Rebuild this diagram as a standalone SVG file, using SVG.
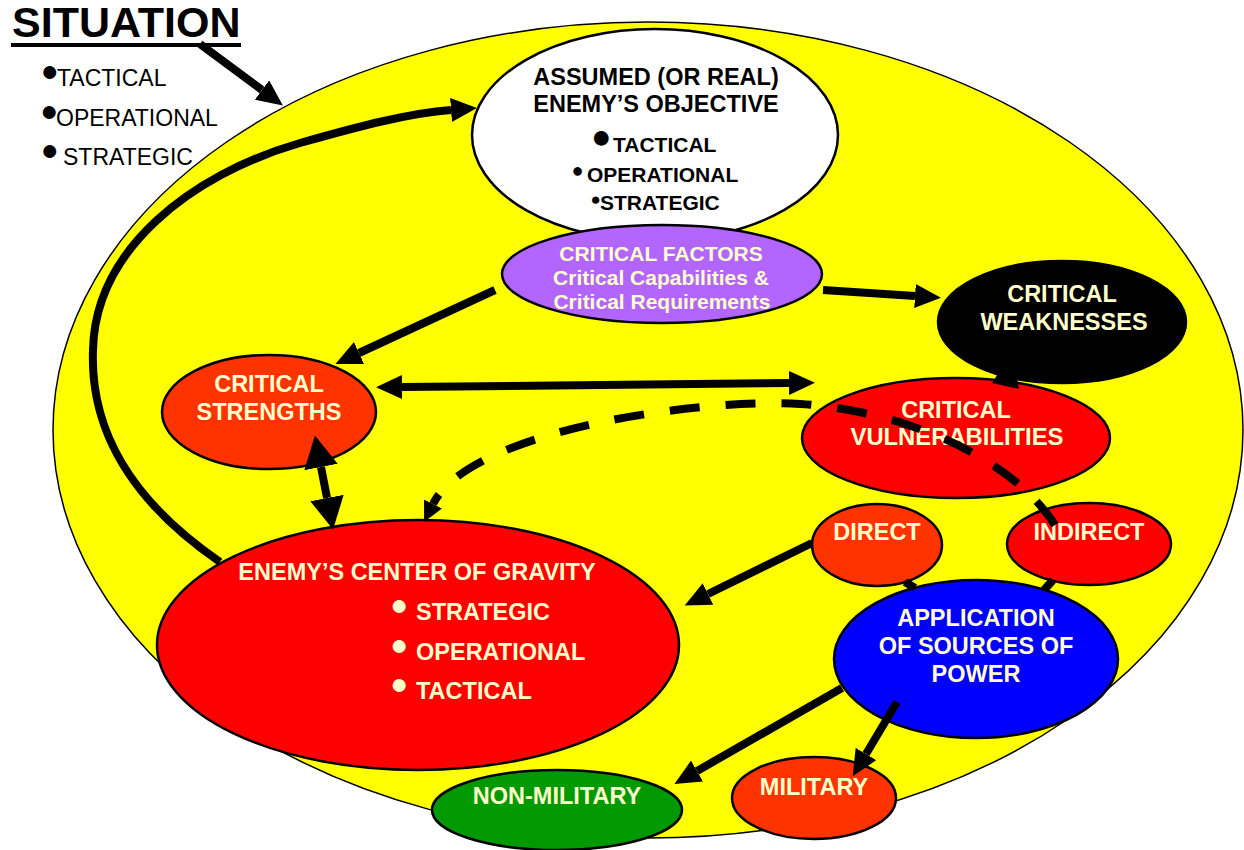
<svg xmlns="http://www.w3.org/2000/svg" width="1244" height="850" viewBox="0 0 1244 850">
<defs>
<style>
text{font-family:"Liberation Sans",Arial,sans-serif;}
.b{font-weight:bold;font-size:23.5px;}
.lt{fill:#FFFFCC;}
.m{text-anchor:middle;}
.node{stroke:#000;stroke-width:2.5;}
.ln{fill:none;stroke:#000;stroke-width:8;}
</style>
<marker id="ah" markerUnits="userSpaceOnUse" markerWidth="26" markerHeight="24" refX="0" refY="12" orient="auto-start-reverse" viewBox="0 0 26 24"><path d="M0,0 L26,12 L0,24 z" fill="#000"/></marker>
<marker id="ahB" markerUnits="userSpaceOnUse" markerWidth="32" markerHeight="34" refX="0" refY="17" orient="auto-start-reverse" viewBox="0 0 32 34"><path d="M0,0 L32,17 L0,34 z" fill="#000"/></marker>
<marker id="ahS" markerUnits="userSpaceOnUse" markerWidth="20" markerHeight="20" refX="0" refY="10" orient="auto" viewBox="0 0 20 20"><path d="M0,0 L20,10 L0,20 z" fill="#000"/></marker>
</defs>
<rect width="1244" height="850" fill="#fff"/>

<g id="title">
<text x="12" y="37" font-size="43" font-weight="bold">SITUATION</text>
<rect x="11" y="43" width="230" height="4" fill="#000"/>
<text x="40.5" y="86" font-size="23"><tspan font-size="30" dy="-5">●</tspan><tspan x="57" dy="5">TACTICAL</tspan></text>
<text x="40" y="126" font-size="23"><tspan font-size="30" dy="-5">●</tspan><tspan x="56" dy="5">OPERATIONAL</tspan></text>
<text x="40.5" y="165" font-size="23"><tspan font-size="30" dy="-5">●</tspan><tspan x="63" dy="5">STRATEGIC</tspan></text>
</g>

<g id="situation-area">
<ellipse cx="648" cy="430" rx="595" ry="408" fill="#FFFF00" stroke="#000" stroke-width="1.5"/>
</g>

<g id="objective">
<ellipse class="node" cx="655" cy="135" rx="183" ry="106" fill="#fff"/>
<text class="b m" x="656" y="85">ASSUMED (OR REAL)</text>
<text class="b m" x="656" y="112">ENEMY’S OBJECTIVE</text>
<text x="591" y="152" font-size="21" font-weight="bold"><tspan font-size="34" dy="-4">●</tspan><tspan x="613" dy="4">TACTICAL</tspan></text>
<text x="571.5" y="182" font-size="21" font-weight="bold"><tspan font-size="20" dy="-5">●</tspan><tspan x="587" dy="5">OPERATIONAL</tspan></text>
<text x="590.5" y="210" font-size="21" font-weight="bold"><tspan font-size="17" dy="-5">●</tspan><tspan x="600" dy="5">STRATEGIC</tspan></text>
</g>

<g id="critical-factors">
<ellipse class="node" cx="662" cy="274" rx="160" ry="49" fill="#B266FF"/>
<text class="lt m" x="661" y="261" font-size="21" font-weight="bold">CRITICAL FACTORS</text>
<text class="lt m" x="661" y="285" font-size="21" font-weight="bold">Critical Capabilities &amp;</text>
<text class="lt m" x="662" y="309" font-size="21" font-weight="bold">Critical Requirements</text>
</g>

<g id="critical-weaknesses">
<ellipse class="node" cx="1062" cy="322" rx="124" ry="61" fill="#000"/>
<text class="b lt m" x="1062" y="302">CRITICAL</text>
<text class="b lt m" x="1064" y="330">WEAKNESSES</text>
</g>

<g id="critical-vulnerabilities">
<ellipse class="node" cx="956" cy="438" rx="154" ry="60" fill="#FF0000"/>
<text class="b lt m" x="956" y="418">CRITICAL</text>
<text class="b lt m" x="957" y="445" textLength="213" lengthAdjust="spacingAndGlyphs">VULNERABILITIES</text>
</g>

<g id="critical-strengths">
<ellipse class="node" cx="269" cy="412" rx="107" ry="57" fill="#FF3300"/>
<text class="b lt m" x="269" y="392">CRITICAL</text>
<text class="b lt m" x="269" y="420">STRENGTHS</text>
</g>

<g id="center-of-gravity">
<ellipse class="node" cx="418" cy="645" rx="261" ry="125" fill="#FF0000"/>
<text class="b lt m" x="417" y="580">ENEMY’S CENTER OF GRAVITY</text>
<text class="b lt" x="390" y="620"><tspan font-size="30" dy="-5">●</tspan><tspan x="416" dy="5">STRATEGIC</tspan></text>
<text class="b lt" x="390" y="660"><tspan font-size="30" dy="-5">●</tspan><tspan x="416" dy="5">OPERATIONAL</tspan></text>
<text class="b lt" x="390" y="699"><tspan font-size="30" dy="-5">●</tspan><tspan x="416" dy="5">TACTICAL</tspan></text>
</g>

<g id="direct">
<ellipse class="node" cx="877" cy="545" rx="65" ry="41" fill="#FF3300"/>
<text class="b lt m" x="877" y="540">DIRECT</text>
</g>

<g id="indirect">
<ellipse class="node" cx="1089" cy="544" rx="82" ry="41" fill="#FF0000"/>
<text class="b lt m" x="1089" y="540">INDIRECT</text>
</g>

<g id="application">
<ellipse class="node" cx="976" cy="659" rx="142" ry="79" fill="#0000FF"/>
<text class="b lt m" x="976" y="626">APPLICATION</text>
<text class="b lt m" x="976" y="654">OF SOURCES OF</text>
<text class="b lt m" x="976" y="682">POWER</text>
</g>

<g id="non-military">
<ellipse class="node" cx="557" cy="810" rx="125" ry="40" fill="#009900"/>
<text class="b lt m" x="557" y="804">NON-MILITARY</text>
</g>

<g id="military">
<ellipse class="node" cx="814" cy="798" rx="82" ry="41" fill="#FF3300"/>
<text class="b lt m" x="814" y="795">MILITARY</text>
</g>

<g id="connectors">
<path class="ln" d="M200 44 L262 90" marker-end="url(#ah)"/>
<path class="ln" stroke-width="7" d="M220 562 C130 500 90 430 93 350 C95 250 190 175 300 143 C360 126 410 113 451 110" marker-end="url(#ah)"/>
<path class="ln" stroke-width="7" d="M495 290 L359 353" marker-end="url(#ah)"/>
<path class="ln" stroke-width="7" d="M823 290 L915 296" marker-end="url(#ah)"/>
<path class="ln" d="M402 387 L789 383" marker-start="url(#ah)" marker-end="url(#ah)"/>
<path class="ln" stroke-width="11" d="M321 467 L327 498" marker-start="url(#ahB)" marker-end="url(#ahB)"/>
<path class="ln" stroke-width="8" stroke-dasharray="30 26" d="M1055 525 C1010 455 900 410 800 404 C700 398 470 430 433 504" marker-end="url(#ahS)"/>
<polygon points="992,383 1019,389 1012,352" fill="#000"/>
<path class="ln" d="M812 543 L708 594" marker-end="url(#ah)"/>
<path class="ln" d="M905 582 L915 588"/>
<path class="ln" d="M1053 580 L1044 590"/>
<path class="ln" d="M842 688 L697 771" marker-end="url(#ah)"/>
<path class="ln" d="M897 702 L866 754" marker-end="url(#ah)"/>
</g>
</svg>
